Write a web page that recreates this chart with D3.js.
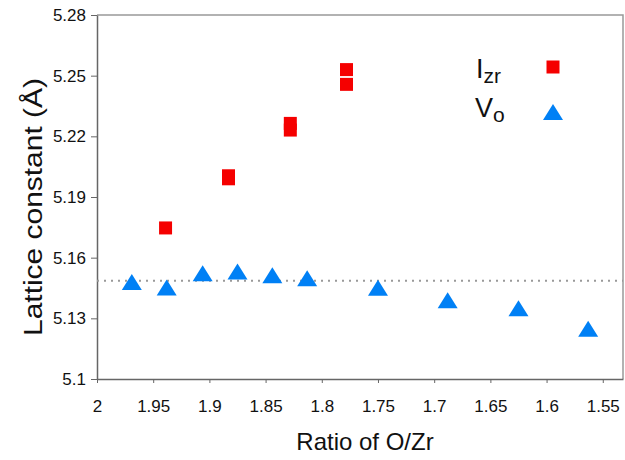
<!DOCTYPE html>
<meta charset="utf-8">
<script src="https://d3js.org/d3.v7.min.js"></script>
<style>
body { margin: 0; background: #fff; }
text { font-family: "Liberation Sans", Arial, sans-serif; fill: #111; }
.tick text { font-size: 17px; }
.axis path, .axis line { stroke: #666; }
</style>
<div id="chart"></div>
<script>
// I_zr (interstitial Zr) points
var izrRatio   = [1.939, 1.883, 1.883, 1.828, 1.828, 1.778, 1.778];
var izrLattice = [5.1747, 5.2005, 5.1990, 5.2264, 5.2231, 5.2530, 5.2457];
// V_o (oxygen vacancy) points
var voRatio   = [1.969, 1.938, 1.906, 1.875, 1.844, 1.813, 1.750, 1.688, 1.625, 1.563];
var voLattice = [5.1480, 5.1453, 5.1523, 5.1532, 5.1513, 5.1498, 5.1451, 5.1389, 5.1350, 5.1249];
// dotted reference level
var refLattice = 5.1486;
var xTicks = [2, 1.95, 1.9, 1.85, 1.8, 1.75, 1.7, 1.65, 1.6, 1.55];
var yTicks = [5.1, 5.13, 5.16, 5.19, 5.22, 5.25, 5.28];

var W = 625, H = 460;
var margin = {top: 15, right: 2, bottom: 81, left: 97};

var svg = d3.select("#chart").append("svg")
    .attr("width", W)
    .attr("height", H);

var x = d3.scaleLinear().domain([2, 1.532]).range([margin.left, W - margin.right]);
var y = d3.scaleLinear().domain([5.1, 5.28]).range([H - margin.bottom, margin.top]);

// top and right frame
svg.append("path")
    .attr("d", "M" + x.range()[0] + "," + y.range()[1] + "H" + x.range()[1] + "V" + y.range()[0])
    .attr("fill", "none")
    .attr("stroke", "#999")
    .attr("stroke-width", 1.5);

svg.append("g")
    .attr("class", "axis")
    .attr("transform", "translate(0," + y.range()[0] + ")")
    .call(d3.axisBottom(x).tickValues(xTicks).tickFormat(function(d) { return d; })
      .tickSizeInner(4).tickSizeOuter(0).tickPadding(17))
    .call(function(g) { g.select(".domain").attr("stroke-width", 1.5); });

svg.append("g")
    .attr("class", "axis")
    .attr("transform", "translate(" + x.range()[0] + ",0)")
    .call(d3.axisLeft(y).tickValues(yTicks).tickFormat(function(d) { return d; })
      .tickSizeInner(6).tickSizeOuter(0).tickPadding(5))
    .call(function(g) { g.select(".domain").attr("stroke-width", 1.5); });

svg.selectAll(".tick text").attr("fill", "#111");

// axis titles
svg.append("text")
    .attr("x", (x.range()[0] + x.range()[1]) / 2 + 5)
    .attr("y", 450)
    .attr("text-anchor", "middle")
    .style("font-size", "24px")
    .text("Ratio of O/Zr");

svg.append("text")
    .attr("transform", "translate(42,207) rotate(-90)")
    .attr("text-anchor", "middle")
    .attr("textLength", 258)
    .attr("lengthAdjust", "spacingAndGlyphs")
    .style("font-size", "25px")
    .text("Lattice constant (Å)");

// reference line
svg.append("line")
    .attr("x1", x.range()[0])
    .attr("x2", x.range()[1])
    .attr("y1", y(refLattice))
    .attr("y2", y(refLattice))
    .attr("stroke", "#999")
    .attr("stroke-width", 2)
    .attr("stroke-dasharray", "2,5");

var triangle = "M0,-8L10,8L-10,8Z";
var square = "M-6.5,-6.5H6.5V6.5H-6.5Z";
var red = "#f50000", blue = "#0080f5";

svg.append("g").selectAll("path")
    .data(voRatio)
    .enter().append("path")
      .attr("d", triangle)
      .attr("transform", function(d, i) { return "translate(" + x(d) + "," + y(voLattice[i]) + ")"; })
      .attr("fill", blue);

svg.append("g").selectAll("path")
    .data(izrRatio)
    .enter().append("path")
      .attr("d", square)
      .attr("transform", function(d, i) { return "translate(" + x(d) + "," + y(izrLattice[i]) + ")"; })
      .attr("fill", red);

// legend
var legend = svg.append("g");
var lt1 = legend.append("text").attr("x", 476).attr("y", 78).style("font-size", "27px");
lt1.append("tspan").text("I");
lt1.append("tspan").attr("dy", 5).style("font-size", "21px").text("zr");
legend.append("path").attr("d", square).attr("transform", "translate(553,67)").attr("fill", red);

var lt2 = legend.append("text").attr("x", 475).attr("y", 117).style("font-size", "27px");
lt2.append("tspan").text("V");
lt2.append("tspan").attr("dy", 5).style("font-size", "21px").text("o");
legend.append("path").attr("d", triangle).attr("transform", "translate(553,112)").attr("fill", blue);
</script>
